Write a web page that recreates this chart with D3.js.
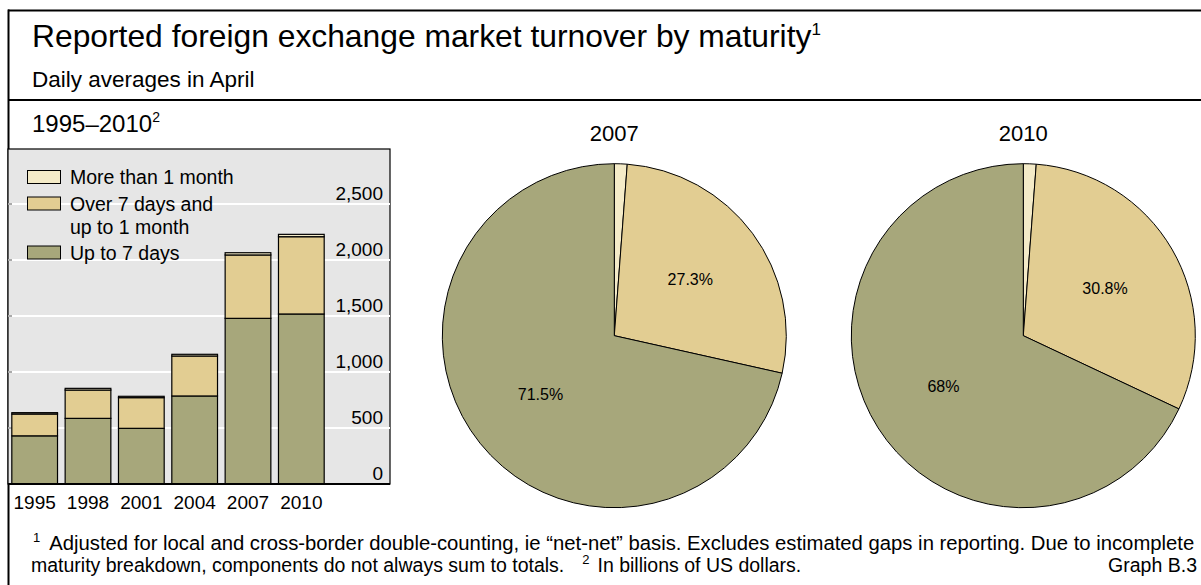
<!DOCTYPE html>
<html>
<head>
<meta charset="utf-8">
<script src="https://cdn.jsdelivr.net/npm/d3@7"></script>
<style>
  body { margin: 0; background: #fff; }
  svg text { font-family: "Liberation Sans", Arial, sans-serif; fill: #000; }
</style>
</head>
<body>
<div id="chart"></div>
<script>
// data (billions of US dollars)
var years = ["1995", "1998", "2001", "2004", "2007", "2010"];
var upTo7Days = [430, 586, 497, 786, 1479, 1518];
var over7DaysTo1Month = [195, 253, 274, 357, 566, 690];
var moreThan1Month = [12, 15, 12, 15, 20, 21];
var yTicks = [0, 500, 1000, 1500, 2000, 2500];

var pieYears = ["2007", "2010"];
var pie2007 = [1.2, 27.3, 71.5];   // more than 1 month, over 7 days, up to 7 days
var pie2010 = [1.2, 30.8, 68];

var colGreen = "#a7a77b";
var colTan = "#e2cd92";
var colLight = "#f4ebc8";

var svgWidth = 1201;
var svgHeight = 585;

var svg = d3.select("#chart")
  .append("svg")
  .attr("width", svgWidth)
  .attr("height", svgHeight);

// frame lines
svg.append("line").attr("x1", 8).attr("x2", svgWidth).attr("y1", 10.5).attr("y2", 10.5)
  .attr("stroke", "#000").attr("stroke-width", 2);
svg.append("line").attr("x1", 8).attr("x2", svgWidth).attr("y1", 100).attr("y2", 100)
  .attr("stroke", "#000").attr("stroke-width", 2);
svg.append("line").attr("x1", 8.5).attr("x2", 8.5).attr("y1", 9.5).attr("y2", svgHeight)
  .attr("stroke", "#000").attr("stroke-width", 2);

// titles
var title = svg.append("text").attr("x", 32).attr("y", 47).attr("font-size", "31.8px");
title.append("tspan").text("Reported foreign exchange market turnover by maturity");
title.append("tspan").attr("dy", -12).attr("font-size", "17px").text("1");

svg.append("text").attr("x", 32).attr("y", 87).attr("font-size", "22.5px")
  .text("Daily averages in April");

var sub = svg.append("text").attr("x", 32).attr("y", 132).attr("font-size", "24px");
sub.append("tspan").text("1995\u20132010");
sub.append("tspan").attr("dy", -10).attr("font-size", "14px").text("2");

// ---- bar chart panel ----
var panel = { left: 8, right: 390, top: 149, bottom: 484 };

svg.append("rect")
  .attr("x", panel.left).attr("y", panel.top)
  .attr("width", panel.right - panel.left).attr("height", panel.bottom - panel.top)
  .attr("fill", "#e6e6e6")
  .attr("stroke", "#000").attr("stroke-width", 1.2);

var xScale = d3.scaleBand()
  .domain(years)
  .range([8, 328])
  .paddingInner(0.143)
  .paddingOuter(0.0715);

var yScale = d3.scaleLinear()
  .domain([0, 2500])
  .range([panel.bottom, 204]);

// gridlines
svg.append("g").selectAll("line")
  .data(yTicks.slice(1))
  .enter()
  .append("line")
  .attr("x1", panel.left).attr("x2", panel.right)
  .attr("y1", d => yScale(d)).attr("y2", d => yScale(d))
  .attr("stroke", "#fff").attr("stroke-width", 2);

// small ticks at the left edge
svg.append("g").selectAll("line")
  .data(yTicks.slice(1))
  .enter()
  .append("line")
  .attr("x1", panel.left).attr("x2", panel.left + 4)
  .attr("y1", d => yScale(d)).attr("y2", d => yScale(d))
  .attr("stroke", "#555").attr("stroke-width", 1);

// y labels, right aligned, sitting above gridlines
svg.append("g").selectAll("text")
  .data(yTicks)
  .enter()
  .append("text")
  .attr("x", 383)
  .attr("y", d => yScale(d) - 4.5)
  .attr("text-anchor", "end")
  .attr("font-size", "19px")
  .text(d => d3.format(",")(d));

// stacked bars
var barData = years.map(function(y, i) {
  return { year: y, a: upTo7Days[i], b: over7DaysTo1Month[i], c: moreThan1Month[i] };
});
var stack = d3.stack().keys(["a", "b", "c"]);
var stacked = stack(barData);
var colors = [colGreen, colTan, colLight];

svg.append("g").selectAll("g")
  .data(stacked)
  .enter()
  .append("g")
  .attr("fill", (d, i) => colors[i])
  .selectAll("rect")
  .data(d => d)
  .enter()
  .append("rect")
  .attr("x", d => xScale(d.data.year))
  .attr("width", xScale.bandwidth())
  .attr("y", d => yScale(d[1]))
  .attr("height", d => yScale(d[0]) - yScale(d[1]))
  .attr("stroke", "#000")
  .attr("stroke-width", 1.2);

// axis baseline
svg.append("line")
  .attr("x1", panel.left).attr("x2", panel.right)
  .attr("y1", panel.bottom).attr("y2", panel.bottom)
  .attr("stroke", "#000").attr("stroke-width", 2);

// x labels
svg.append("g").selectAll("text")
  .data(years)
  .enter()
  .append("text")
  .attr("x", d => xScale(d) + xScale.bandwidth() / 2)
  .attr("y", 508.5)
  .attr("text-anchor", "middle")
  .attr("font-size", "19px")
  .text(d => d);

// legend
var legendItems = [
  { label: ["More than 1 month"], color: colLight, y: 177 },
  { label: ["Over 7 days and", "up to 1 month"], color: colTan, y: 203.5 },
  { label: ["Up to 7 days"], color: colGreen, y: 252.5 }
];
var legend = svg.append("g").selectAll("g")
  .data(legendItems)
  .enter()
  .append("g");
legend.append("rect")
  .attr("x", 27.5).attr("y", d => d.y - 6.5)
  .attr("width", 33).attr("height", 13)
  .attr("fill", d => d.color)
  .attr("stroke", "#000").attr("stroke-width", 1);
legend.append("text")
  .attr("x", 70)
  .attr("y", d => d.y + 7)
  .attr("font-size", "19.5px")
  .selectAll("tspan")
  .data(d => d.label)
  .enter()
  .append("tspan")
  .attr("x", 70)
  .attr("dy", (d, i) => i === 0 ? 0 : 23)
  .text(d => d);

// ---- pies ----
var radius = 172;
var pieCenters = [614.3, 1023.3];
var pieCy = 335.7;
var pieColors = [colLight, colTan, colGreen];
var pieLabels = [["", "27.3%", "71.5%"], ["", "30.8%", "68%"]];

var pie = d3.pie().sort(null).value(d => d);
var arc = d3.arc().innerRadius(0).outerRadius(radius);
var labelArc = d3.arc().innerRadius(radius * 0.55).outerRadius(radius * 0.55);

[pie2007, pie2010].forEach(function(vals, k) {
  svg.append("text")
    .attr("x", pieCenters[k])
    .attr("y", 141)
    .attr("text-anchor", "middle")
    .attr("font-size", "22px")
    .text(pieYears[k]);

  var g = svg.append("g")
    .attr("transform", `translate(${pieCenters[k]}, ${pieCy})`);

  var arcs = pie(vals);
  g.selectAll("path")
    .data(arcs)
    .enter()
    .append("path")
    .attr("d", arc)
    .attr("fill", (d, i) => pieColors[i])
    .attr("stroke", "#000")
    .attr("stroke-width", 1);

  g.selectAll("text")
    .data(arcs)
    .enter()
    .append("text")
    .attr("transform", d => `translate(${labelArc.centroid(d)})`)
    .attr("text-anchor", "middle")
    .attr("dy", "0.35em")
    .attr("font-size", "16px")
    .text((d, i) => pieLabels[k][i]);
});

// footnotes
var f1 = svg.append("text").attr("x", 33).attr("y", 550).attr("font-size", "19.5px");
f1.append("tspan").attr("font-size", "13px").attr("dy", -8).text("1");
f1.append("tspan").attr("dy", 8).attr("dx", 9)
  .attr("textLength", 1145).attr("lengthAdjust", "spacingAndGlyphs")
  .text("Adjusted for local and cross-border double-counting, ie \u201cnet-net\u201d basis. Excludes estimated gaps in reporting. Due to incomplete");

var f2 = svg.append("text").attr("x", 31).attr("y", 572).attr("font-size", "19.5px");
f2.append("tspan").text("maturity breakdown, components do not always sum to totals.");
f2.append("tspan").attr("dx", 18).attr("dy", -8).attr("font-size", "13px").text("2");
f2.append("tspan").attr("dx", 8).attr("dy", 8).text("In billions of US dollars.");

svg.append("text").attr("x", 1197).attr("y", 572).attr("font-size", "19.5px")
  .attr("text-anchor", "end").text("Graph B.3");
</script>
</body>
</html>
